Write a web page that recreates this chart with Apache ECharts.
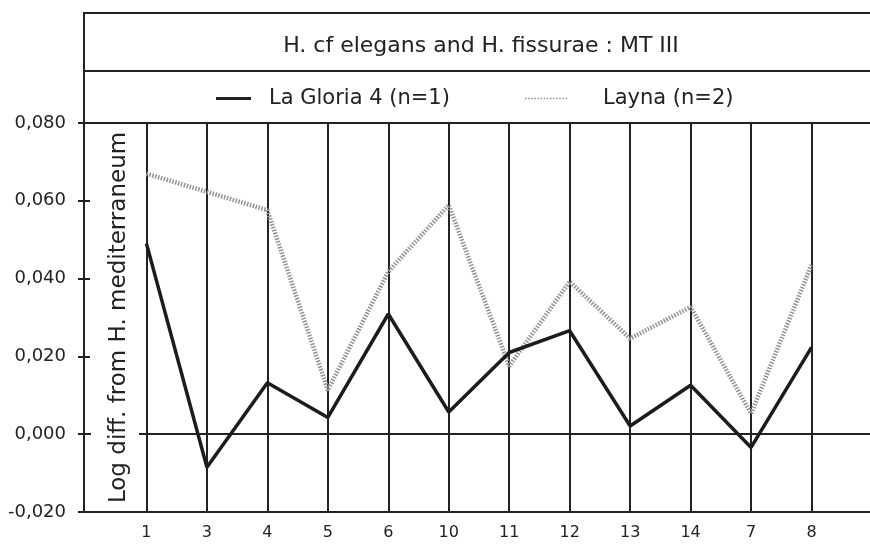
<!DOCTYPE html>
<html>
<head>
<meta charset="utf-8">
<script src="https://cdn.jsdelivr.net/npm/echarts@6/dist/echarts.min.js"></script>
<style>
html,body{margin:0;padding:0;background:#fff;}
#chart{width:870px;height:546px;}
</style>
</head>
<body>
<div id="chart"></div>
<script>
const titleText = 'H. cf elegans and H. fissurae : MT III';
const yAxisName = 'Log diff. from H. mediterraneum';
const categories = ['1','3','4','5','6','10','11','12','13','14','7','8'];
const seriesNames = ['La Gloria 4 (n=1)', 'Layna (n=2)'];
const laGloria = [0.049, -0.0085, 0.0132, 0.0043, 0.0309, 0.0057, 0.021, 0.0266, 0.0021, 0.0126, -0.0034, 0.0223];
const layna = [0.067, 0.0623, 0.0576, 0.0113, 0.0418, 0.0589, 0.0175, 0.0392, 0.0246, 0.0327, 0.0053, 0.0435];

const INK = '#222';
const GREY = '#929292';
const SANS = "'DejaVu Sans', sans-serif";

const xData = [' '].concat(categories, ['  ']);
const pad = v => ['-'].concat(v, ['-']);

let dots = '';
for (let i = 0; i < 14; i++) dots += 'M' + (i * 2) + ',0h1v1h-1z';

const chart = echarts.init(document.getElementById('chart'), null, {renderer: 'canvas'});
const yFmt = v => v.toFixed(3).replace('.', ',');

const option = {
  backgroundColor: '#fff',
  animation: false,
  title: {
    text: titleText,
    left: 476, top: 41, textAlign: 'center', textVerticalAlign: 'middle',
    textStyle: {fontFamily: SANS, fontWeight: 'normal', fontSize: 22, color: INK}
  },
  legend: [
    {
      data: [{name: seriesNames[0], icon: 'rect', itemStyle: {color: INK}}],
      left: 211, top: 83, itemWidth: 35, itemHeight: 3,
      textStyle: {fontFamily: SANS, fontSize: 21, color: INK, padding: [0,0,0,13]}
    },
    {
      data: [{name: seriesNames[1], icon: 'path://' + dots, itemStyle: {color: GREY}}],
      left: 520, top: 83, itemWidth: 42, itemHeight: 3,
      textStyle: {fontFamily: SANS, fontSize: 21, color: INK, padding: [0,0,0,31]}
    }
  ],
  grid: {left: 86, width: 786, top: 123, bottom: 34, containLabel: false, outerBoundsMode: 'none'},
  xAxis: {
    type: 'category',
    data: xData,
    boundaryGap: false,
    axisLine: {show: true, lineStyle: {color: INK, width: 2}},
    axisTick: {show: false},
    axisLabel: {fontFamily: SANS, fontSize: 16, color: INK, margin: 13, interval: 0},
    splitLine: {show: true, interval: (i, v) => v.trim() !== '', lineStyle: {color: INK, width: 2}}
  },
  yAxis: [
    {
      type: 'value', position: 'left', offset: 2,
      min: -0.02, max: 0.08, interval: 0.02,
      axisLine: {show: true, lineStyle: {color: INK, width: 2}},
      axisTick: {show: true, length: 6, lineStyle: {color: INK, width: 2}},
      axisLabel: {formatter: yFmt, fontFamily: SANS, fontSize: 18, color: INK, margin: 18},
      splitLine: {show: true, lineStyle: {color: [INK, INK, 'transparent', 'transparent', 'transparent', INK], width: 2}}
    },
    {
      type: 'value', position: 'left', offset: 2, z: 3,
      min: -0.02, max: 0.08, interval: 0.02,
      name: yAxisName, nameLocation: 'middle', nameRotate: 90, nameGap: -55,
      nameTextStyle: {fontFamily: SANS, fontSize: 23, color: INK, backgroundColor: '#fff', padding: [17, 0, 8, 0]},
      axisLine: {show: true, lineStyle: {color: INK, width: 2}},
      axisTick: {show: true, inside: true, length: 6, lineStyle: {color: INK, width: 2}},
      axisLabel: {show: false},
      splitLine: {show: false}
    }
  ],
  series: [
    {
      name: seriesNames[0], type: 'line', data: pad(laGloria),
      showSymbol: false, symbol: 'none', z: 4,
      lineStyle: {color: '#1c1c1c', width: 3.5},
      itemStyle: {color: '#1c1c1c'}
    },
    {
      name: seriesNames[1], type: 'line', data: pad(layna),
      showSymbol: false, symbol: 'none', z: 3,
      lineStyle: {color: GREY, width: 4.5, type: [1.5, 1.5]},
      itemStyle: {color: GREY}
    }
  ],
  graphic: [
    {type: 'line', shape: {x1: 84, y1: 13, x2: 870, y2: 13}, style: {stroke: INK, lineWidth: 2}},
    {type: 'line', shape: {x1: 84, y1: 71, x2: 870, y2: 71}, style: {stroke: INK, lineWidth: 2}},
    {type: 'line', shape: {x1: 84, y1: 12, x2: 84, y2: 123}, style: {stroke: INK, lineWidth: 2}}
  ]
};
chart.setOption(option);
</script>
</body>
</html>
